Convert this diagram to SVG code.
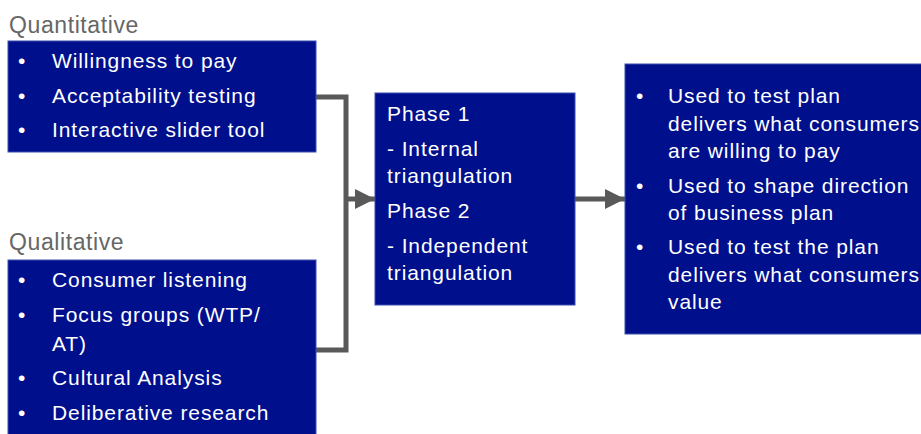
<svg xmlns="http://www.w3.org/2000/svg" width="921" height="434" viewBox="0 0 921 434">
  <style>
    .box { fill: #000F8C; stroke: #3A4FB0; stroke-width: 1; }
    .t { font-family: "Liberation Sans", Arial, sans-serif; font-size: 21px; letter-spacing: 0.9px; fill: #FFFFFF; }
    .h { font-family: "Liberation Sans", Arial, sans-serif; font-size: 23px; letter-spacing: 0.6px; fill: #666666; }
    .conn { fill: none; stroke: #595959; stroke-width: 5; }
  </style>
  <defs>
    <marker id="arrow" markerUnits="userSpaceOnUse" markerWidth="22" markerHeight="20" refX="20" refY="10" orient="auto">
      <path d="M0,0 L20,10 L0,20 Z" fill="#595959"/>
    </marker>
  </defs>

  <rect width="921" height="434" fill="#FFFFFF"/>

  <!-- connectors -->
  <g id="connectors">
    <path class="conn" d="M316,97 H346 V350 H316"/>
    <path class="conn" d="M346,199 H375" marker-end="url(#arrow)"/>
    <path class="conn" d="M575,199 H625" marker-end="url(#arrow)"/>
  </g>

  <!-- quantitative methods -->
  <g id="quantitative">
    <text class="h" x="9" y="33">Quantitative</text>
    <rect class="box" x="8" y="41" width="308" height="111"/>
    <text class="t">
      <tspan x="18" y="68">•</tspan><tspan x="52" y="68">Willingness to pay</tspan>
      <tspan x="18" y="103">•</tspan><tspan x="52" y="103">Acceptability testing</tspan>
      <tspan x="18" y="137">•</tspan><tspan x="52" y="137">Interactive slider tool</tspan>
    </text>
  </g>

  <!-- qualitative methods -->
  <g id="qualitative">
    <text class="h" x="9" y="250">Qualitative</text>
    <rect class="box" x="8" y="260" width="308" height="180"/>
    <text class="t">
      <tspan x="18" y="287">•</tspan><tspan x="52" y="287">Consumer listening</tspan>
      <tspan x="18" y="322">•</tspan><tspan x="52" y="322">Focus groups (WTP/</tspan>
      <tspan x="52" y="351">AT)</tspan>
      <tspan x="18" y="385">•</tspan><tspan x="52" y="385">Cultural Analysis</tspan>
      <tspan x="18" y="420">•</tspan><tspan x="52" y="420">Deliberative research</tspan>
    </text>
  </g>

  <!-- triangulation phases -->
  <g id="phases">
    <rect class="box" x="375" y="93" width="200" height="212"/>
    <text class="t">
      <tspan x="387" y="121">Phase 1</tspan>
      <tspan x="387" y="156">- Internal</tspan>
      <tspan x="387" y="183">triangulation</tspan>
      <tspan x="387" y="218">Phase 2</tspan>
      <tspan x="387" y="253">- Independent</tspan>
      <tspan x="387" y="280">triangulation</tspan>
    </text>
  </g>

  <!-- outcomes -->
  <g id="outcomes">
    <rect class="box" x="625" y="64" width="300" height="270"/>
    <text class="t">
      <tspan x="636" y="103">•</tspan><tspan x="668" y="103">Used to test plan</tspan>
      <tspan x="668" y="131">delivers what consumers</tspan>
      <tspan x="668" y="158">are willing to pay</tspan>
      <tspan x="636" y="193">•</tspan><tspan x="668" y="193">Used to shape direction</tspan>
      <tspan x="668" y="220">of business plan</tspan>
      <tspan x="636" y="254">•</tspan><tspan x="668" y="254">Used to test the plan</tspan>
      <tspan x="668" y="282">delivers what consumers</tspan>
      <tspan x="668" y="309">value</tspan>
    </text>
  </g>
</svg>
